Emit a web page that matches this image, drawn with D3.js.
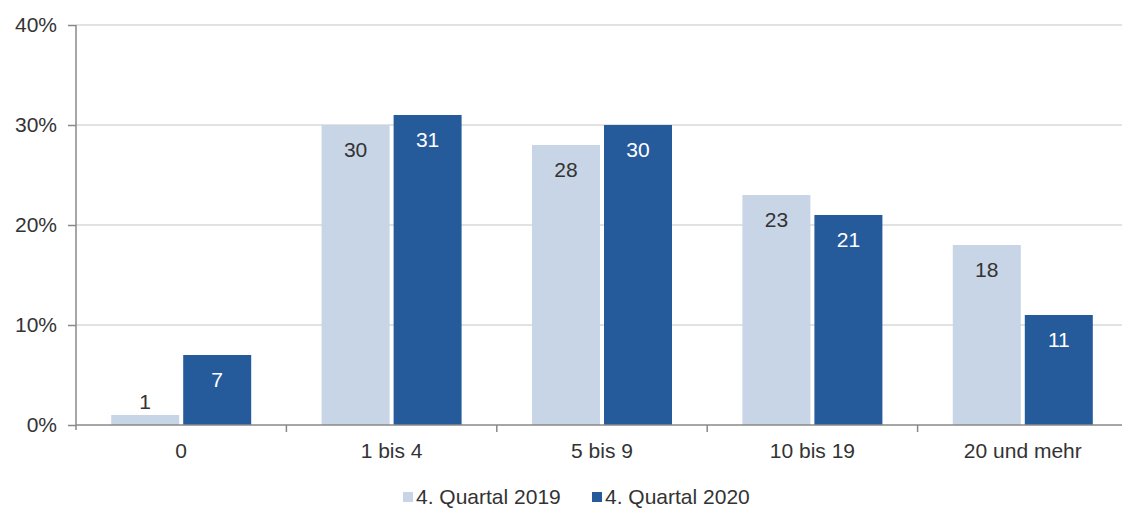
<!DOCTYPE html>
<html><head><meta charset="utf-8">
<script src="https://cdn.jsdelivr.net/npm/d3@7"></script>
<style>body{margin:0;background:#fff}svg{display:block;font-family:"Liberation Sans",Arial,sans-serif}</style>
</head><body><svg id="c" width="1122" height="509"></svg>
<script>
const categories = ["0","1 bis 4","5 bis 9","10 bis 19","20 und mehr"];
const seriesNames = ["4. Quartal 2019","4. Quartal 2020"];
const values2019 = [1,30,28,23,18];
const values2020 = [7,31,30,21,11];
const yTicks = [0,10,20,30,40];
const colors = ["#C8D5E6","#265B9B"];
const labelColors = ["#333333","#ffffff"];

const FS = 21;
const svg = d3.select("#c");
const L = 76, R = 1128, T = 25, B = 425;
const x = d3.scaleBand().domain(categories).range([L,R]);
const y = d3.scaleLinear().domain([0,40]).range([B,T]);
const bw = 68, gap = 4;

// gridlines
svg.append("g").selectAll("line").data(yTicks.filter(d=>d>0)).join("line")
  .attr("x1",L).attr("x2",1122).attr("y1",d=>y(d)).attr("y2",d=>y(d))
  .attr("stroke","#d9d9d9").attr("stroke-width",1.5);

const series = [values2019, values2020];
series.forEach((vals,si)=>{
  const g = svg.append("g");
  g.selectAll("rect").data(categories).join("rect")
    .attr("x",(c)=>x(c)+x.bandwidth()/2 - bw - gap/2 + si*(bw+gap))
    .attr("width",bw)
    .attr("y",(c,i)=>y(vals[i]))
    .attr("height",(c,i)=>B-y(vals[i]))
    .attr("fill",colors[si]);
  g.selectAll("text").data(categories).join("text")
    .attr("x",(c)=>x(c)+x.bandwidth()/2 - bw/2 - gap/2 + si*(bw+gap))
    .attr("y",(c,i)=> vals[i] < 3 ? y(vals[i]) - 13 : y(vals[i]) + 25)
    .attr("dy","0.35em")
    .attr("text-anchor","middle")
    .attr("font-size",FS)
    .attr("fill",(c,i)=> vals[i] < 3 ? "#333" : labelColors[si])
    .text((c,i)=>vals[i]);
});

// y axis
const ya = svg.append("g").attr("transform",`translate(${L},0)`)
  .call(d3.axisLeft(y).tickValues(yTicks).tickFormat(d=>d+"%").tickSize(8).tickPadding(11));
ya.select(".domain").remove();
ya.selectAll(".tick line").attr("stroke","#888").attr("stroke-width",1.5);
ya.selectAll(".tick text").attr("font-size",FS).attr("fill","#333").attr("font-family","Liberation Sans, Arial, sans-serif");
svg.append("line").attr("x1",L).attr("x2",L).attr("y1",T).attr("y2",B+5).attr("stroke","#888").attr("stroke-width",1.5);

// x axis
const xa = svg.append("g").attr("transform",`translate(0,${B})`)
  .call(d3.axisBottom(x).tickSize(0).tickPadding(18));
xa.select(".domain").remove();
svg.append("line").attr("x1",L).attr("x2",1122).attr("y1",B).attr("y2",B).attr("stroke","#888").attr("stroke-width",1.5);
const bounds = categories.map(c=>x(c)).concat([R]);
svg.append("g").selectAll("line").data(bounds.slice(1,-1)).join("line")
  .attr("x1",d=>d).attr("x2",d=>d).attr("y1",B).attr("y2",B+7)
  .attr("stroke","#888").attr("stroke-width",1.5);
xa.selectAll(".tick text").attr("font-size",FS).attr("fill","#333").attr("font-family","Liberation Sans, Arial, sans-serif");

// legend
const leg = svg.append("g");
const legX = [403, 592];
seriesNames.forEach((n,i)=>{
  leg.append("rect").attr("x",legX[i]).attr("y",492).attr("width",10).attr("height",10).attr("fill",colors[i]);
  leg.append("text").attr("x",legX[i]+13).attr("y",497).attr("dy","0.35em")
    .attr("font-size",FS).attr("fill","#333").text(n);
});
</script></body></html>
